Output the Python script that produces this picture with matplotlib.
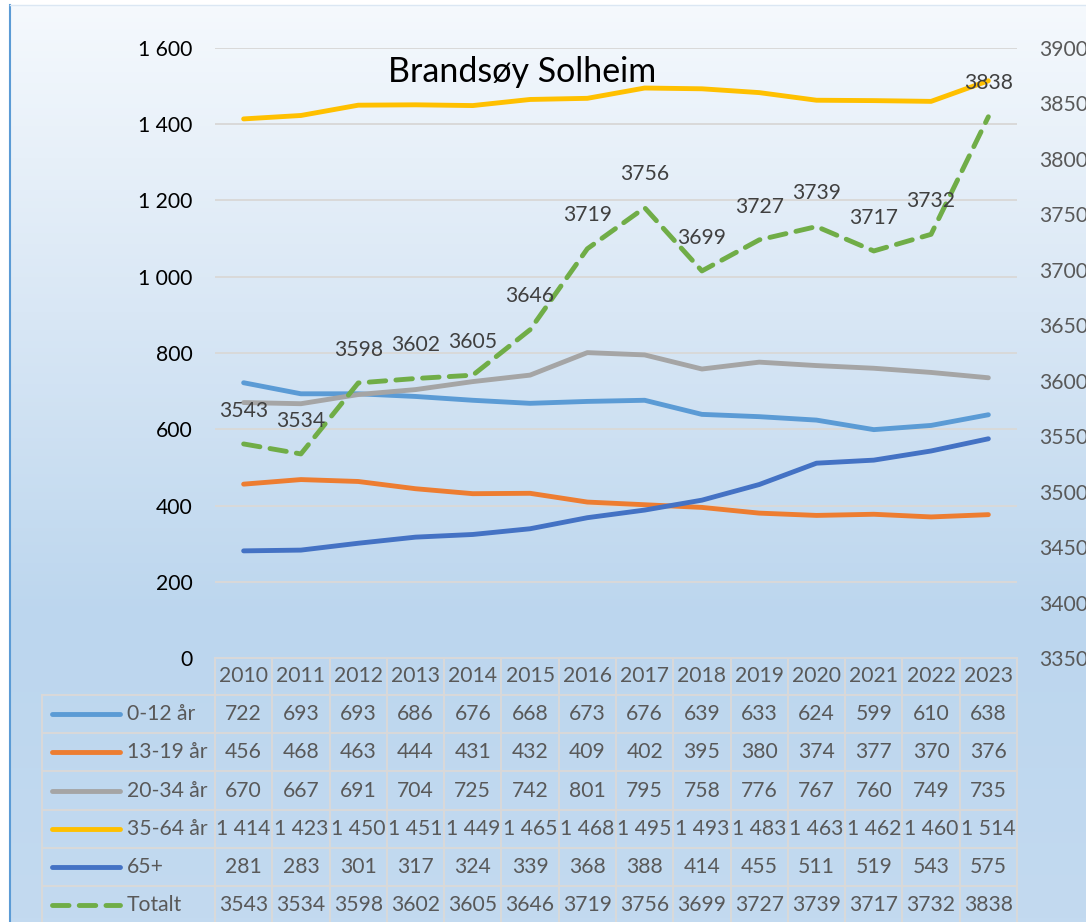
import numpy as np
import matplotlib.pyplot as plt
from matplotlib.colors import LinearSegmentedColormap
from matplotlib.transforms import blended_transform_factory

plt.rcParams['font.family'] = ['Lato', 'DejaVu Sans']

years = [2010, 2011, 2012, 2013, 2014, 2015, 2016, 2017, 2018, 2019, 2020, 2021, 2022, 2023]
age_0_12 = [722, 693, 693, 686, 676, 668, 673, 676, 639, 633, 624, 599, 610, 638]
age_13_19 = [456, 468, 463, 444, 431, 432, 409, 402, 395, 380, 374, 377, 370, 376]
age_20_34 = [670, 667, 691, 704, 725, 742, 801, 795, 758, 776, 767, 760, 749, 735]
age_35_64 = [1414, 1423, 1450, 1451, 1449, 1465, 1468, 1495, 1493, 1483, 1463, 1462, 1460, 1514]
age_65 = [281, 283, 301, 317, 324, 339, 368, 388, 414, 455, 511, 519, 543, 575]
totalt = [3543, 3534, 3598, 3602, 3605, 3646, 3719, 3756, 3699, 3727, 3739, 3717, 3732, 3838]

series = [
    ('0-12 år', age_0_12, '#5b9bd5'),
    ('13-19 år', age_13_19, '#ed7d31'),
    ('20-34 år', age_20_34, '#a5a5a5'),
    ('35-64 år', age_35_64, '#ffc000'),
    ('65+', age_65, '#4472c4'),
]

W, H = 1086, 922
FS = 15.2
fig = plt.figure(figsize=(W / 100, H / 100), dpi=100)

def fx(px):
    return px / W

def fy(py):
    return 1 - py / H

# bakgrunn med fargeovergang
bg = fig.add_axes([fx(10), 0, 1 - fx(10), fy(5)])
cmap = LinearSegmentedColormap.from_list('bg', ['#f5f9fd', '#d9e7f5', '#bcd6ee', '#c3daf0'])
bg.imshow(np.linspace(0, 1, 256).reshape(-1, 1), aspect='auto', cmap=cmap,
          extent=[0, 1, 0, 1], origin='upper')
bg.set_axis_off()
fig.add_artist(plt.Line2D([fx(10), fx(10)], [0, fy(5)], color='#5b9bd5', lw=1.5))
fig.add_artist(plt.Line2D([fx(10), 1], [fy(5), fy(5)], color='#dbe7f3', lw=1))

x = np.arange(len(years))
ax = fig.add_axes([fx(215), fy(658), fx(1017 - 215), (658 - 48) / H])
ax.patch.set_alpha(0)
ax.set_xlim(-0.5, len(years) - 0.5)
ax.set_ylim(0, 1600)
ax.set_yticks(range(0, 1601, 200))
ax.set_yticklabels([f'{v:,}'.replace(',', ' ') for v in range(0, 1601, 200)])
ax.yaxis.grid(True, color='#d9d9d9', lw=1.4)
ax.set_axisbelow(True)
ax.set_xticks([])
for s in ax.spines.values():
    s.set_visible(False)
ax.tick_params(axis='y', length=0, pad=16, labelsize=FS, labelcolor='#000000')

for name, vals, col in series:
    ax.plot(x, vals, color=col, lw=3.5, solid_joinstyle='round', solid_capstyle='round')

ax2 = ax.twinx()
ax2.set_ylim(3350, 3900)
ax2.set_yticks(range(3350, 3901, 50))
for s in ax2.spines.values():
    s.set_visible(False)
ax2.tick_params(axis='y', length=0, pad=16, labelsize=FS, labelcolor='#595959')
ax2.plot(x, totalt, color='#70ad47', lw=3.5, ls=(0, (3.4, 2.1)), dash_capstyle='round')
for xi, v in zip(x, totalt):
    ax2.annotate(str(v), (xi, v), xytext=(0, 24), textcoords='offset points',
                 ha='center', va='center', fontsize=FS, color='#404040')

ax.text(0.383, 0.96, 'Brandsøy Solheim', transform=ax.transAxes, ha='center',
        va='center', fontsize=24.5, color='#000000')

# datatabell under diagrammet
tr = blended_transform_factory(ax.transData, fig.transFigure)
grid_col = '#d9d9d9'
row_h = 38.2
top = 658
rows_top = top + 37
n_rows = len(series) + 1
bottom = rows_top + n_rows * row_h

for i in range(len(years) + 1):
    fig.add_artist(plt.Line2D([i - 0.5, i - 0.5], [fy(top), fy(bottom)], color=grid_col,
                              lw=1.4, transform=tr))
fig.add_artist(plt.Line2D([-0.5, len(years) - 0.5], [fy(top), fy(top)], color=grid_col,
                          lw=1.4, transform=tr))
for r in range(n_rows + 1):
    yy = fy(rows_top + r * row_h)
    fig.add_artist(plt.Line2D([fx(42), fx(1017)], [yy, yy], color=grid_col, lw=1.4))
fig.add_artist(plt.Line2D([fx(42), fx(42)], [fy(rows_top), fy(bottom)], color=grid_col, lw=1.4))

for xi, yr in zip(x, years):
    fig.text(xi, fy((top + rows_top) / 2), str(yr), transform=tr, ha='center', va='center',
             fontsize=FS, color='#595959')

rows = series + [('Totalt', totalt, '#70ad47')]
for r, (name, vals, col) in enumerate(rows):
    yc = fy(rows_top + (r + 0.5) * row_h)
    ls = (0, (3.4, 2.1)) if name == 'Totalt' else '-'
    fig.add_artist(plt.Line2D([fx(52), fx(120)], [yc, yc], color=col, lw=3.5, ls=ls,
                              solid_capstyle='round', dash_capstyle='round'))
    fig.text(fx(127), yc, name, ha='left', va='center', fontsize=FS, color='#595959')
    for xi, v in zip(x, vals):
        txt = f'{v:,}'.replace(',', ' ') if name != 'Totalt' else str(v)
        fig.text(xi, yc, txt, transform=tr, ha='center', va='center', fontsize=FS,
                 color='#595959')

fig.savefig('out.png', dpi=100)
